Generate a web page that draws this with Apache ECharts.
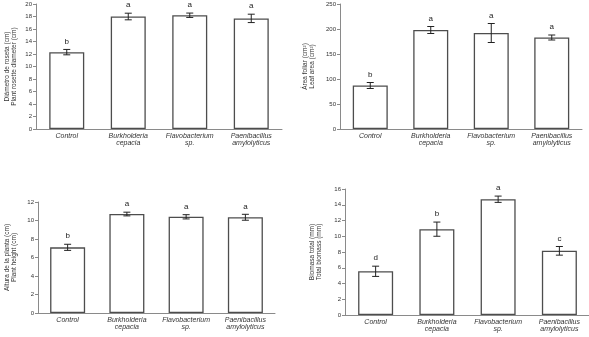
<!DOCTYPE html>
<html>
<head>
<meta charset="utf-8">
<script src="https://cdn.jsdelivr.net/npm/echarts@6/dist/echarts.min.js"></script>
<style>
html,body{margin:0;padding:0;background:#fff;}
#chart{width:589px;height:337px;}
</style>
</head>
<body>
<div id="chart"></div>
<script>
const categories = ['Control', 'Burkholderia\ncepacia', 'Flavobacterium\nsp.', 'Paenibacillus\namylolyticus'];

const rosetteMean = [12.3, 18.0, 18.2, 17.7];
const rosetteErr = [0.43, 0.53, 0.35, 0.67];
const rosetteLetters = ['b', 'a', 'a', 'a'];

const leafMean = [87, 198, 192, 183];
const leafErr = [6, 7, 19, 5];
const leafLetters = ['b', 'a', 'a', 'a'];

const heightMean = [7.1, 10.7, 10.4, 10.35];
const heightErr = [0.33, 0.2, 0.23, 0.32];
const heightLetters = ['b', 'a', 'a', 'a'];

const biomassMean = [5.55, 10.9, 14.7, 8.15];
const biomassErr = [0.65, 0.9, 0.4, 0.55];
const biomassLetters = ['d', 'b', 'a', 'c'];

const yTitles = [
  'Diámetro de roseta (cm)\nPlant rosette diameter (cm)',
  'Área foliar (cm²)\nLeaf area (cm²)',
  'Altura de la planta (cm)\nPlant height (cm)',
  'Biomasa total (mm)\nTotal biomass (mm)'
];
const yMax = [20, 250, 12, 16];
const yInterval = [2, 50, 2, 2];

const panels = [
  { mean: rosetteMean, err: rosetteErr, letters: rosetteLetters },
  { mean: leafMean, err: leafErr, letters: leafLetters },
  { mean: heightMean, err: heightErr, letters: heightLetters },
  { mean: biomassMean, err: biomassErr, letters: biomassLetters }
];

const grids = [
  { left: 36, top: 4, width: 246, height: 125 },
  { left: 340, top: 4, width: 242, height: 125 },
  { left: 38, top: 202, width: 237, height: 111 },
  { left: 345, top: 189, width: 245, height: 126 }
];
const nameGaps = [18, 24, 20, 22];

const FONT = 'Liberation Sans, Arial, sans-serif';
const NARROW = 'Liberation Sans Narrow, Liberation Sans, Arial, sans-serif';

const chart = echarts.init(document.getElementById('chart'));

const option = {
  animation: false,
  backgroundColor: '#fff',
  grid: grids.map(g => Object.assign({ containLabel: false, outerBoundsMode: 'none' }, g)),
  xAxis: grids.map((g, i) => ({
    type: 'category',
    gridIndex: i,
    data: categories,
    axisLine: { lineStyle: { color: '#8a8a8a', width: 1 } },
    axisTick: { show: false },
    axisLabel: {
      interval: 0,
      margin: 3,
      fontSize: 7,
      lineHeight: 7.5,
      fontStyle: 'italic',
      fontFamily: FONT,
      color: '#333'
    }
  })),
  yAxis: grids.map((g, i) => ({
    type: 'value',
    gridIndex: i,
    min: 0,
    max: yMax[i],
    interval: yInterval[i],
    name: yTitles[i],
    nameLocation: 'middle',
    nameRotate: 90,
    nameGap: nameGaps[i],
    nameTextStyle: { fontSize: 6.5, lineHeight: 7.5, fontFamily: NARROW, color: '#333' },
    axisLine: { show: true, lineStyle: { color: '#8a8a8a', width: 1 } },
    axisTick: { show: true, length: 3, lineStyle: { color: '#8a8a8a' } },
    splitLine: { show: false },
    axisLabel: { fontSize: 6, margin: 4, fontFamily: FONT, color: '#333' }
  })),
  series: []
};

panels.forEach((p, i) => {
  option.series.push({
    type: 'bar',
    xAxisIndex: i,
    yAxisIndex: i,
    data: p.mean,
    barWidth: 35,
    itemStyle: { color: '#fff', borderColor: '#4d4d4d', borderWidth: 1.3 },
    z: 2
  });
  option.series.push({
    type: 'custom',
    xAxisIndex: i,
    yAxisIndex: i,
    z: 3,
    data: p.mean.map((m, k) => [k, m, p.err[k]]),
    renderItem: function (params, api) {
      const idx = params.dataIndex;
      const cx = api.coord([api.value(0), 0])[0];
      const top = api.coord([api.value(0), api.value(1) + api.value(2)])[1];
      const bot = api.coord([api.value(0), api.value(1) - api.value(2)])[1];
      const hw = 3.5;
      const st = { stroke: '#222', lineWidth: 1 };
      return {
        type: 'group',
        children: [
          { type: 'line', shape: { x1: cx, y1: top, x2: cx, y2: bot }, style: st },
          { type: 'line', shape: { x1: cx - hw, y1: top, x2: cx + hw, y2: top }, style: st },
          { type: 'line', shape: { x1: cx - hw, y1: bot, x2: cx + hw, y2: bot }, style: st },
          {
            type: 'text',
            style: {
              text: p.letters[idx],
              x: cx,
              y: top - 4,
              align: 'center',
              verticalAlign: 'bottom',
              fontSize: 8,
              fontFamily: FONT,
              fill: '#222'
            }
          }
        ]
      };
    }
  });
});

chart.setOption(option);
</script>
</body>
</html>
